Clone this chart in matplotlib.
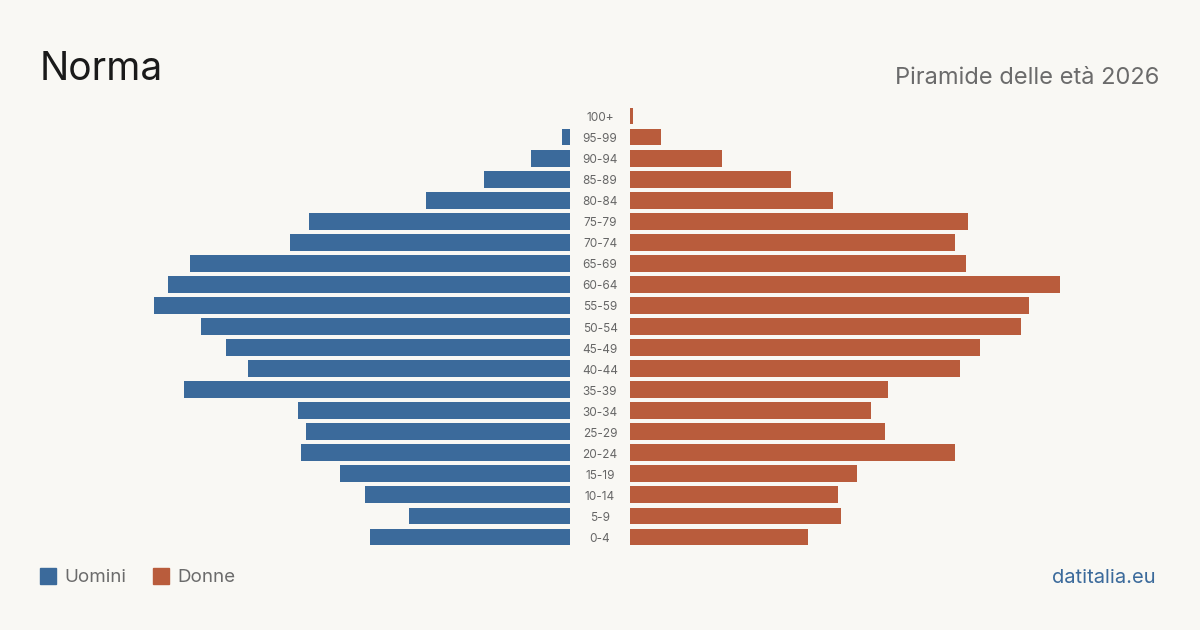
import matplotlib.pyplot as plt

plt.rcParams['font.family'] = ['Inter', 'DejaVu Sans']

bg = '#f9f8f4'
blu = '#3b6a9b'
ros = '#b95c3c'

age_groups = ['0-4', '5-9', '10-14', '15-19', '20-24', '25-29', '30-34',
              '35-39', '40-44', '45-49', '50-54', '55-59', '60-64', '65-69',
              '70-74', '75-79', '80-84', '85-89', '90-94', '95-99', '100+']
uomini = [200, 161, 205, 230, 269, 264, 272, 386, 322, 344, 369, 416, 402,
          380, 280, 261, 144, 86, 39, 8, 0]
donne = [178, 211, 208, 227, 325, 255, 241, 258, 330, 350, 391, 399, 430,
         336, 325, 338, 203, 161, 92, 31, 3]

W, H = 1200, 630
fig = plt.figure(figsize=(12, 6.3), dpi=100, facecolor=bg)

def px(x0, y0, x1, y1):
  return [x0 / W, 1 - y1 / H, (x1 - x0) / W, (y1 - y0) / H]

ax_m = fig.add_axes(px(140, 105.5, 570, 547.5))
ax_f = fig.add_axes(px(630, 105.5, 1060, 547.5))

ys = list(range(len(age_groups)))
ax_m.barh(ys, uomini, height=0.8, color=blu)
ax_f.barh(ys, donne, height=0.8, color=ros)

for ax in (ax_m, ax_f):
  ax.set_facecolor('none')
  ax.set_ylim(-0.5, len(age_groups) - 0.5)
  ax.set_xticks([])
  ax.set_yticks([])
  for s in ax.spines.values():
    s.set_visible(False)
ax_m.set_xlim(430, 0)
ax_f.set_xlim(0, 430)

for y, lab in zip(ys, age_groups):
  ax_f.annotate(lab, (0, y), xytext=(-30, -2), textcoords='offset pixels',
                ha='center', va='center', fontsize=8.5, color='#666666')

fig.text(40 / W, 1 - 69 / H, 'Norma', fontsize=28, color='#1a1a1a',
         ha='left', va='center')
fig.text(1159 / W, 1 - 78 / H, 'Piramide delle età 2026', fontsize=17,
         color='#6b6b6b', ha='right', va='center')

# legenda
fig.patches.append(plt.Rectangle((40 / W, 1 - 584 / H), 16 / W, 16 / H,
                                 transform=fig.transFigure, color=blu))
fig.text(64 / W, 1 - 578 / H, 'Uomini', fontsize=13.5, color='#6b6b6b',
         ha='left', va='center')
fig.patches.append(plt.Rectangle((153 / W, 1 - 584 / H), 16 / W, 16 / H,
                                 transform=fig.transFigure, color=ros))
fig.text(177 / W, 1 - 578 / H, 'Donne', fontsize=13.5, color='#6b6b6b',
         ha='left', va='center')

fig.text(1156 / W, 1 - 578 / H, 'datitalia.eu', fontsize=14.5, color=blu,
         ha='right', va='center')

fig.savefig('out.png', dpi=100, facecolor=bg)
